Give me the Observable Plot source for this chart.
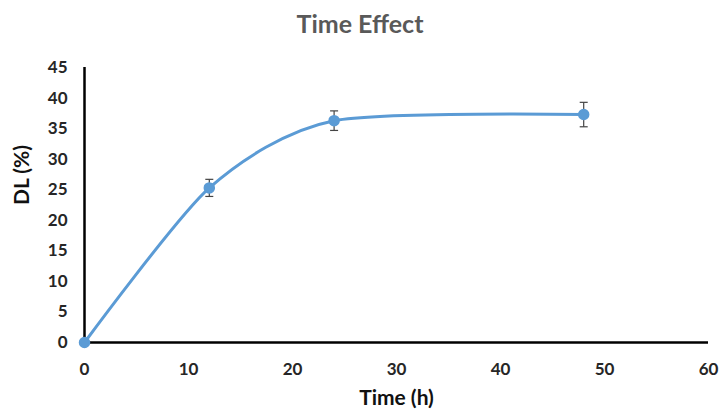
<!DOCTYPE html>
<html><head><meta charset="utf-8">
<script src="https://cdn.jsdelivr.net/npm/d3@7"></script>
<script src="https://cdn.jsdelivr.net/npm/@observablehq/plot@0.6"></script>
<style>
body{margin:0;background:#fff;font-family:Lato,"Open Sans",sans-serif;}
#title{height:46px;line-height:46px;text-align:center;font-size:25px;font-weight:bold;color:#595959;}
</style></head><body>
<div id="title">Time Effect</div>
<div id="chart"></div>
<script>
const times = [0, 12, 24, 48];
const dl = [0, 25.3, 36.3, 37.3];
const err = [0, 1.4, 1.6, 2.0];
const xTicks = [0, 10, 20, 30, 40, 50, 60];
const yTicks = [0, 5, 10, 15, 20, 25, 30, 35, 40, 45];

const data = times.map((t, i) => ({t, v: dl[i], lo: dl[i] - err[i], hi: dl[i] + err[i], e: err[i]}));
const bars = data.filter(d => d.e > 0);
const cap = {draw(ctx, size){ const r = Math.sqrt(size/Math.PI); ctx.moveTo(-r,0); ctx.lineTo(r,0); }};

const H = 369;
const plot = Plot.plot({
  width: 720, height: H,
  marginLeft: 84, marginRight: 12, marginTop: 21, marginBottom: 73,
  style: {fontFamily: "Lato, 'Open Sans', sans-serif", background: "#fff", overflow: "visible"},
  x: {domain: [0, 60]},
  y: {domain: [0, 45]},
  marks: [
    Plot.axisX({ticks: xTicks, tickSize: 0, tickPadding: 20, fontSize: 17, fontWeight: "bold", fill: "#262626", label: null}),
    Plot.axisY({ticks: yTicks, tickSize: 0, tickPadding: 17, fontSize: 17, fontWeight: "bold", fill: "#262626", label: null}),
    Plot.text(["Time (h)"], {frameAnchor: "bottom", dy: 62, fontSize: 21, fontWeight: "bold", fill: "#111"}),
    Plot.text(["DL (%)"], {frameAnchor: "left", dx: -62, rotate: -90, fontSize: 21, fontWeight: "bold", fill: "#111"}),
    Plot.ruleX([0], {stroke: "#000", strokeWidth: 2.5}),
    Plot.ruleY([0], {stroke: "#000", strokeWidth: 2.5}),
    Plot.line(data, {x: "t", y: "v", stroke: "#5B9BD5", strokeWidth: 3, curve: "cardinal", tension: 0.25}),
    Plot.link(bars, {x1: "t", x2: "t", y1: "lo", y2: "hi", stroke: "#444", strokeWidth: 1.2}),
    Plot.dot(bars, {x: "t", y: "lo", symbol: cap, r: 4, stroke: "#444", strokeWidth: 1.2, fill: "none"}),
    Plot.dot(bars, {x: "t", y: "hi", symbol: cap, r: 4, stroke: "#444", strokeWidth: 1.2, fill: "none"}),
    Plot.dot(data, {x: "t", y: "v", r: 5, fill: "#5B9BD5", stroke: "#5B9BD5"})
  ]
});
document.getElementById("chart").appendChild(plot);
</script>
</body></html>
